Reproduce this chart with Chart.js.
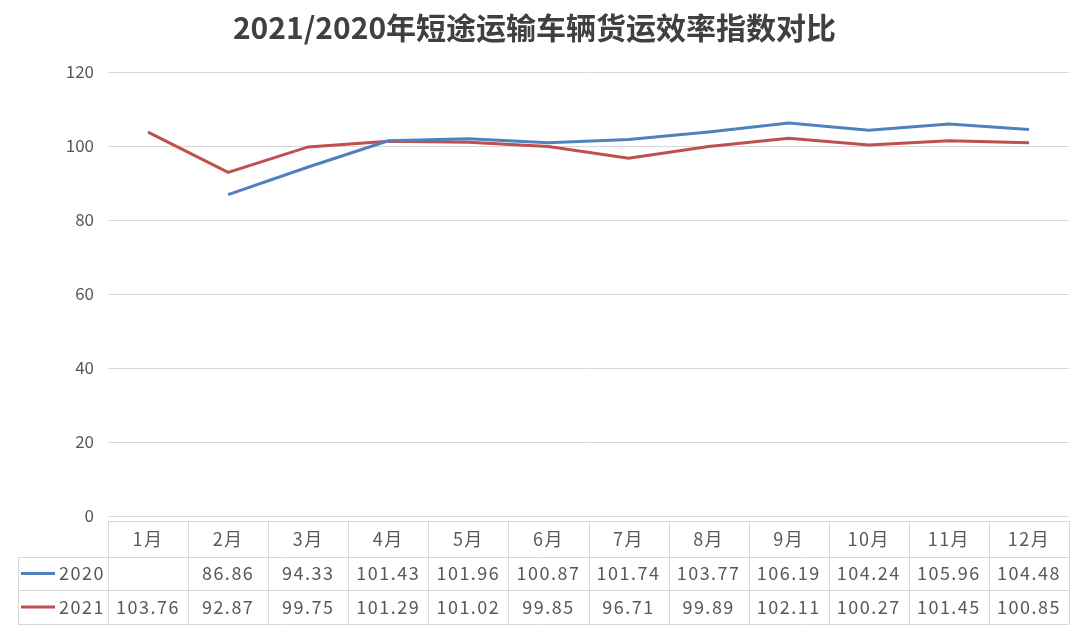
<!DOCTYPE html>
<html><head><meta charset="utf-8">
<script src="https://cdn.jsdelivr.net/npm/chart.js@4/dist/chart.umd.min.js"></script>
<style>html,body{margin:0;padding:0;background:#fff}#wrap{width:1080px;height:635px}</style>
</head><body><div id="wrap"><canvas id="c" width="1080" height="635"></canvas></div>
<script>
const categories = ['1月','2月','3月','4月','5月','6月','7月','8月','9月','10月','11月','12月'];
const series2020 = [null, 86.86, 94.33, 101.43, 101.96, 100.87, 101.74, 103.77, 106.19, 104.24, 105.96, 104.48];
const series2021 = [103.76, 92.87, 99.75, 101.29, 101.02, 99.85, 96.71, 99.89, 102.11, 100.27, 101.45, 100.85];
const seriesNames = ['2020', '2021'];
const seriesColors = ['#4F81BD', '#C0504D'];
const titleText = '2021/2020年短途运输车辆货运效率指数对比';

const textColor = '#595959';
const gridColor = '#D9D9D9';
const font = "'Noto Sans CJK SC', 'Noto Sans', sans-serif";

const tablePlugin = {
  id: 'dataTable',
  afterDraw(chart) {
    const ctx = chart.ctx;
    const ca = chart.chartArea;
    const xs = chart.scales.x;
    const n = categories.length;
    const colW = (ca.right - ca.left) / n;
    const top = ca.bottom + 5, r1 = ca.bottom + 41, r2 = ca.bottom + 74, r3 = ca.bottom + 108;
    const leftX = 18;
    ctx.save();
    ctx.strokeStyle = gridColor; ctx.lineWidth = 1;
    ctx.beginPath();
    ctx.moveTo(ca.left, top + 0.5); ctx.lineTo(ca.right, top + 0.5);
    [r1, r2, r3].forEach(y => { ctx.moveTo(leftX, y + 0.5); ctx.lineTo(ca.right, y + 0.5); });
    ctx.moveTo(leftX + 0.5, r1); ctx.lineTo(leftX + 0.5, r3);
    for (let i = 0; i <= n; i++) {
      const x = Math.round(ca.left + i * colW) + 0.5;
      ctx.moveTo(x, top); ctx.lineTo(x, r3);
    }
    ctx.stroke();
    ctx.fillStyle = textColor;
    ctx.font = '18px ' + font;
    ctx.textAlign = 'center'; ctx.textBaseline = 'middle';
    try { ctx.letterSpacing = '1.5px'; } catch (e) {}
    categories.forEach((c, i) => ctx.fillText(c, xs.getPixelForValue(i), (top + r1) / 2));
    const rows = [[series2020, (r1 + r2) / 2], [series2021, (r2 + r3) / 2]];
    rows.forEach(([data, y], k) => {
      data.forEach((v, i) => { if (v !== null) ctx.fillText(v.toFixed(2), xs.getPixelForValue(i), y); });
      ctx.strokeStyle = seriesColors[k]; ctx.lineWidth = 3;
      ctx.beginPath(); ctx.moveTo(21, y); ctx.lineTo(55, y); ctx.stroke();
      ctx.textAlign = 'left';
      ctx.fillText(seriesNames[k], 59, y);
      ctx.textAlign = 'center';
    });
    ctx.restore();
  }
};

new Chart(document.getElementById('c'), {
  type: 'line',
  data: {
    labels: categories,
    datasets: [
      { label: seriesNames[0], data: series2020, borderColor: seriesColors[0], backgroundColor: seriesColors[0], borderWidth: 3, pointRadius: 0, tension: 0, spanGaps: false },
      { label: seriesNames[1], data: series2021, borderColor: seriesColors[1], backgroundColor: seriesColors[1], borderWidth: 3, pointRadius: 0, tension: 0 }
    ]
  },
  options: {
    responsive: false, animation: false,
    layout: { padding: { left: 0, right: 11, top: 0, bottom: 119 } },
    plugins: {
      legend: { display: false },
      tooltip: { enabled: false },
      title: { display: true, text: titleText, color: '#404040', font: { family: font, size: 30, weight: 'bold' }, padding: { top: 10, bottom: 26 } }
    },
    scales: {
      x: { display: false, offset: true, grid: { display: false } },
      y: {
        min: 0, max: 120,
        ticks: { stepSize: 20, color: textColor, font: { family: font, size: 17 }, padding: 14 },
        grid: { color: gridColor, drawTicks: false },
        border: { display: false },
        afterFit(s) { s.width = 108; }
      }
    }
  },
  plugins: [tablePlugin]
});
</script>
</body></html>
